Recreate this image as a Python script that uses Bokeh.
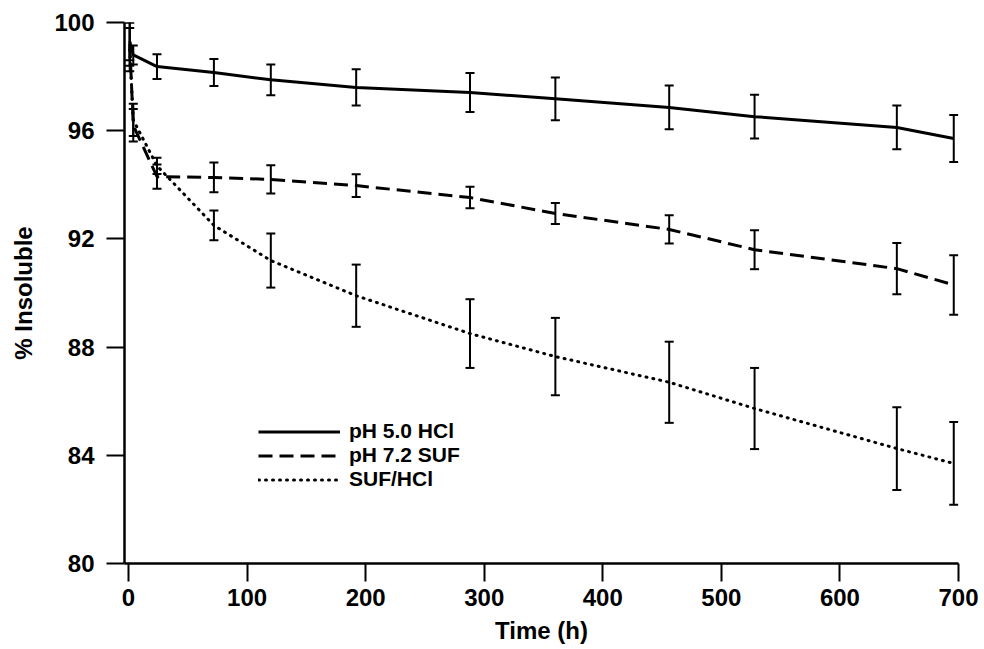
from bokeh.plotting import figure
from bokeh.models import (ColumnDataSource, Whisker, TeeHead, Range1d, FixedTicker,
                          Legend, LegendItem)
from bokeh.embed import file_html
from bokeh.resources import INLINE

# ---- data ----
time_h = [1, 4, 24, 72, 120, 192, 288, 360, 456, 528, 648, 696]

hcl_mean = [99.3, 98.8, 98.37, 98.15, 97.88, 97.6, 97.41, 97.18, 96.86, 96.52, 96.12, 95.71]
hcl_err = [0.7, 0.35, 0.46, 0.5, 0.57, 0.67, 0.72, 0.79, 0.81, 0.81, 0.81, 0.87]

suf_mean = [99.2, 96.2, 94.3, 94.27, 94.2, 93.97, 93.53, 92.94, 92.35, 91.6, 90.9, 90.3]
suf_err = [0.8, 0.6, 0.45, 0.55, 0.52, 0.42, 0.4, 0.39, 0.52, 0.72, 0.95, 1.1]

mix_mean = [99.0, 96.4, 94.7, 92.5, 91.2, 89.9, 88.5, 87.65, 86.7, 85.73, 84.25, 83.7]
mix_err = [0.8, 0.6, 0.3, 0.55, 1.0, 1.15, 1.27, 1.43, 1.5, 1.5, 1.53, 1.53]

series_labels = ["pH 5.0 HCl", "pH 7.2 SUF", "SUF/HCl"]
x_ticks = [0, 100, 200, 300, 400, 500, 600, 700]
y_ticks = [80, 84, 88, 92, 96, 100]

FONT = "Liberation Sans"

p = figure(frame_width=834, frame_height=541,
           x_range=Range1d(-3.4, 700), y_range=Range1d(80, 100),
           output_backend="svg", toolbar_location=None,
           min_border_left=124, min_border_right=26,
           min_border_top=22, min_border_bottom=86)
p.grid.visible = False
p.outline_line_color = None
p.background_fill_color = "white"
p.border_fill_color = "white"

for ax in (p.xaxis[0], p.yaxis[0]):
    ax.axis_line_width = 2.5
    ax.axis_line_color = "black"
    ax.major_tick_line_width = 2
    ax.major_tick_line_color = "black"
    ax.major_tick_out = 18
    ax.major_tick_in = 0
    ax.minor_tick_line_color = None
    ax.major_label_text_font = FONT
    ax.major_label_text_font_style = "bold"
    ax.major_label_text_font_size = "24px"
    ax.major_label_text_color = "black"
    ax.axis_label_text_font = FONT
    ax.axis_label_text_font_style = "bold"
    ax.axis_label_text_font_size = "24px"
    ax.axis_label_text_color = "black"

p.xaxis.ticker = FixedTicker(ticks=x_ticks)
p.yaxis.ticker = FixedTicker(ticks=y_ticks)
p.xaxis.axis_label = "Time (h)"
p.yaxis.axis_label = "% Insoluble"
p.xaxis.major_label_standoff = 7
p.yaxis.major_label_standoff = 12
p.xaxis.axis_label_standoff = 8
p.yaxis.axis_label_standoff = 14

styles = [dict(line_dash="solid", line_width=3, line_cap="butt"),
          dict(line_dash="14 7", line_width=3, line_cap="butt"),
          dict(line_dash="1 6", line_width=3, line_cap="round")]
means = [hcl_mean, suf_mean, mix_mean]
errs = [hcl_err, suf_err, mix_err]

renderers = []
for m, e, st in zip(means, errs, styles):
    src = ColumnDataSource(dict(t=time_h, m=m,
                                lo=[a - b for a, b in zip(m, e)],
                                up=[a + b for a, b in zip(m, e)]))
    r = p.line("t", "m", source=src, line_color="black", **st)
    renderers.append(r)
    w = Whisker(base="t", lower="lo", upper="up", source=src,
                line_color="black", line_width=2,
                lower_head=TeeHead(size=9, line_width=2, line_color="black"),
                upper_head=TeeHead(size=9, line_width=2, line_color="black"))
    p.add_layout(w)

legend = Legend(items=[LegendItem(label=lab, renderers=[r])
                       for lab, r in zip(series_labels, renderers)],
                location=(134, 72), border_line_color=None,
                background_fill_alpha=0, padding=0, margin=0, spacing=0,
                glyph_width=82, glyph_height=23, label_height=23,
                label_standoff=9, label_text_font=FONT,
                label_text_font_style="bold", label_text_font_size="21px",
                label_text_color="black")
p.add_layout(legend)

open("out.html", "w").write(file_html(p, INLINE))
